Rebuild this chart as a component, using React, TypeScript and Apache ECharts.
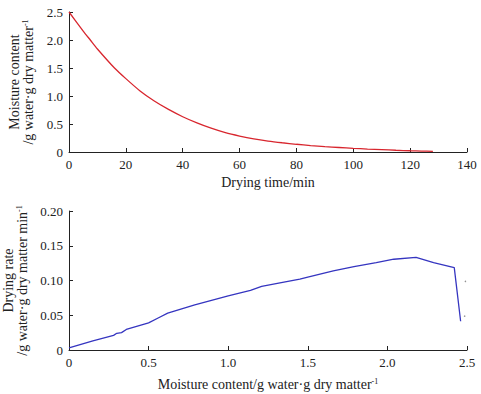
import React, { useEffect, useRef } from "react";
import * as echarts from "echarts";

// Drying curve: moisture content vs drying time
const dryingTime = [0, 5, 7.5, 10, 16, 20, 25, 30, 35, 40, 45, 50, 55, 60, 65, 70, 75, 80, 85, 90, 95, 100, 105, 110, 115, 120, 124, 128];
const moistureContent = [2.5, 2.16, 2.0, 1.84, 1.5, 1.31, 1.09, 0.91, 0.76, 0.63, 0.52, 0.425, 0.345, 0.285, 0.235, 0.196, 0.165, 0.138, 0.115, 0.095, 0.08, 0.066, 0.053, 0.042, 0.031, 0.022, 0.016, 0.012];

// Drying rate curve: drying rate vs moisture content
const rateMoisture = [0, 0.15, 0.28, 0.3, 0.33, 0.36, 0.5, 0.56, 0.62, 0.79, 1.0, 1.14, 1.21, 1.35, 1.45, 1.5, 1.66, 1.79, 1.93, 2.04, 2.18, 2.29, 2.42, 2.46];
const dryingRate = [0.003, 0.013, 0.021, 0.024, 0.025, 0.0296, 0.039, 0.046, 0.053, 0.065, 0.078, 0.0857, 0.0914, 0.0977, 0.102, 0.105, 0.114, 0.12, 0.1257, 0.1306, 0.1334, 0.1257, 0.1186, 0.0414];

// two stray specks beside the falling end of the rate curve
const speckMoisture = [2.49, 2.485];
const speckRate = [0.0986, 0.0486];

const topTicksX = { min: 0, max: 140, interval: 20 };
const topTicksY = { min: 0, max: 2.5, interval: 0.5 };
const bottomTicksX = { min: 0, max: 2.5, interval: 0.5 };
const bottomTicksY = { min: 0, max: 0.2, interval: 0.05 };

const FONT = "'Liberation Serif', 'Times New Roman', serif";
const INK = "#222";

// small raised "-1" exponent used in the unit labels
const richSup = {
  sup: { fontSize: 8, fontFamily: FONT, color: INK, verticalAlign: "top" as const, lineHeight: 9 },
};

function axisBase(gridIndex: number) {
  return {
    type: "value" as const,
    gridIndex,
    splitLine: { show: false },
    axisLine: { show: true, onZero: false, lineStyle: { color: INK, width: 1 } },
    axisTick: { show: true, inside: true, length: 4, lineStyle: { color: INK } },
    axisLabel: { color: INK, fontFamily: FONT, fontSize: 13, margin: 6 },
    nameTextStyle: { color: INK, fontFamily: FONT, fontSize: 14, lineHeight: 14, rich: richSup },
  };
}

export default function App() {
  const ref = useRef<HTMLDivElement>(null);

  useEffect(() => {
    if (!ref.current) return;
    document.body.style.margin = "0";
    const chart = echarts.init(ref.current, undefined, { renderer: "svg" });
    const fmt1 = (v: number) => (v === 0 ? "0" : v.toFixed(1));
    const fmt2 = (v: number) => (v === 0 ? "0" : v.toFixed(2));

    chart.setOption({
      animation: false,
      backgroundColor: "#fff",
      grid: [
        { left: 69, top: 12, width: 398, height: 140, outerBoundsMode: "none", containLabel: false },
        { left: 69, top: 211, width: 398, height: 139, outerBoundsMode: "none", containLabel: false },
      ],
      xAxis: [
        {
          ...axisBase(0),
          ...topTicksX,
          name: "Drying time/min",
          nameLocation: "middle",
          nameGap: 23,
          axisLabel: { ...axisBase(0).axisLabel, formatter: (v: number) => String(v) },
        },
        {
          ...axisBase(1),
          ...bottomTicksX,
          name: "Moisture content/g water·g dry matter{sup|-1}",
          nameLocation: "middle",
          nameGap: 27,
          axisLabel: { ...axisBase(1).axisLabel, formatter: fmt1 },
        },
      ],
      yAxis: [
        {
          ...axisBase(0),
          ...topTicksY,
          name: "Moisture content\n/g water·g dry matter{sup|-1}",
          nameLocation: "middle",
          nameRotate: 90,
          nameGap: 32,
          axisLabel: { ...axisBase(0).axisLabel, formatter: fmt1 },
        },
        {
          ...axisBase(1),
          ...bottomTicksY,
          name: "Drying rate\n/g water·g dry matter min{sup|-1}",
          nameLocation: "middle",
          nameRotate: 90,
          nameGap: 39,
          axisLabel: { ...axisBase(1).axisLabel, formatter: fmt2 },
        },
      ],
      series: [
        {
          type: "line",
          xAxisIndex: 0,
          yAxisIndex: 0,
          data: dryingTime.map((t, i) => [t, moistureContent[i]]),
          showSymbol: false,
          smooth: 0.25,
          lineStyle: { color: "#d8262e", width: 1.3 },
        },
        {
          type: "line",
          xAxisIndex: 1,
          yAxisIndex: 1,
          data: rateMoisture.map((m, i) => [m, dryingRate[i]]),
          showSymbol: false,
          lineStyle: { color: "#3535c0", width: 1.3 },
        },
        {
          type: "scatter",
          xAxisIndex: 1,
          yAxisIndex: 1,
          data: speckMoisture.map((m, i) => [m, speckRate[i]]),
          symbolSize: 1.5,
          itemStyle: { color: "#777" },
        },
      ],
    });
    return () => chart.dispose();
  }, []);

  return <div ref={ref} style={{ width: 481, height: 394 }} />;
}
